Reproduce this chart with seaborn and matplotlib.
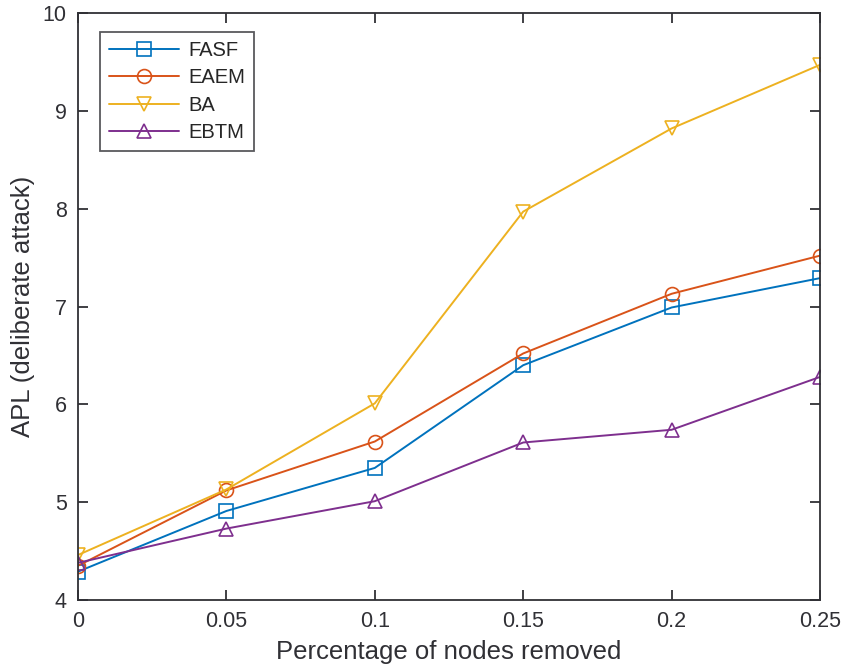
import matplotlib
matplotlib.use('Agg')
import matplotlib.pyplot as plt
import numpy as np
import pandas as pd
import seaborn as sns

removed = [0, 0.05, 0.1, 0.15, 0.2, 0.25]
x_labels = ['0', '0.05', '0.1', '0.15', '0.2', '0.25']
fasf = [4.29, 4.91, 5.35, 6.40, 6.99, 7.29]
eaem = [4.35, 5.12, 5.62, 6.52, 7.13, 7.52]
ba = [4.46, 5.13, 6.01, 7.97, 8.82, 9.47]
ebtm = [4.38, 4.73, 5.01, 5.61, 5.74, 6.28]
methods = ['FASF', 'EAEM', 'BA', 'EBTM']

colors = ['#0072BD', '#D95319', '#EDB120', '#7E2F8E']
markers = ['s', 'o', 'v', '^']

sns.set_style('ticks')
plt.rcParams['font.family'] = ['Liberation Sans', 'DejaVu Sans']
TEXT = '#303035'

df = pd.DataFrame({
    'x': removed * 4,
    'y': fasf + eaem + ba + ebtm,
    'method': [m for m in methods for _ in removed],
})

fig = plt.figure(figsize=(8.43, 6.71), dpi=100)
ax = fig.add_axes([0.0925, 0.1058, 0.8802, 0.8748])
sns.lineplot(data=df, x='x', y='y', hue='method', style='method',
             palette=dict(zip(methods, colors)), markers=dict(zip(methods, markers)),
             dashes=False, markersize=10, linewidth=1.4, legend=False, ax=ax)
for line, c in zip(ax.lines, colors):
    line.set_markerfacecolor('none')
    line.set_markeredgecolor(c)
    line.set_markeredgewidth(1.2)

ax.set_xlim(0, 0.25)
ax.set_ylim(4, 10)
ax.set_xticks(removed)
ax.set_xticklabels(x_labels)
ax.set_yticks(range(4, 11))
ax.tick_params(direction='in', top=True, right=True, length=7, width=1.3,
               labelsize=15.5, colors=TEXT, pad=8)
for s in ax.spines.values():
    s.set_visible(True)
    s.set_linewidth(1.3)
    s.set_color(TEXT)
ax.set_xlabel('Percentage of nodes removed', fontsize=18.5, color=TEXT, labelpad=6)
ax.set_ylabel('APL (deliberate attack)', fontsize=18.5, color=TEXT, labelpad=6)

leg = ax.legend(ax.lines, methods, loc='upper left', bbox_to_anchor=(0.0296, 0.968),
                borderaxespad=0, fontsize=14.5, frameon=True, fancybox=False,
                edgecolor=TEXT, handlelength=3.5, borderpad=0.45, labelspacing=0.42,
                handletextpad=0.45)
leg.get_frame().set_linewidth(1.3)

plt.savefig('out.png', dpi=100)
